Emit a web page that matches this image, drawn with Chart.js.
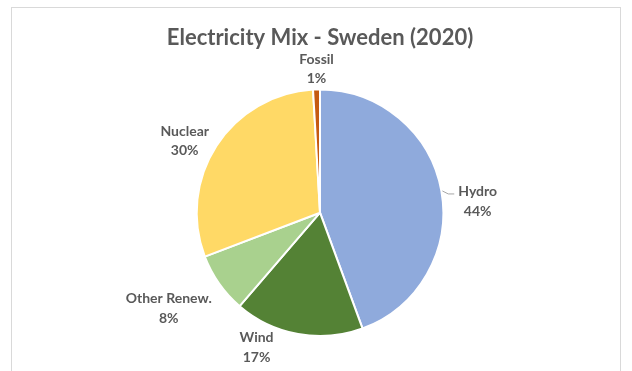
<!DOCTYPE html>
<html>
<head>
<meta charset="utf-8">
<script src="https://cdn.jsdelivr.net/npm/chart.js@4"></script>
<style>
  html, body { margin: 0; padding: 0; background: #fff; }
  #wrap { width: 632px; height: 371px; position: relative; }
</style>
</head>
<body>
<div id="wrap"><canvas id="mix"></canvas></div>
<script>
const categories = ['Hydro', 'Wind', 'Other Renew.', 'Nuclear', 'Fossil'];
const shares = [44.4, 16.9, 7.9, 29.9, 0.9];
const pctLabels = ['44%', '17%', '8%', '30%', '1%'];
const sliceColors = ['#8FAADC', '#548235', '#A9D18E', '#FFD966', '#C55A11'];

const textGrey = '#595959';
const labelFont = 'bold 14px Lato';

// grey frame around the chart, like the Excel chart border
const framePlugin = {
    id: 'frame',
    beforeDraw(chart) {
        const c = chart.ctx;
        c.save();
        c.strokeStyle = '#D9D9D9';
        c.lineWidth = 1;
        c.strokeRect(11.5, 7.5, 609, 420);
        c.restore();
    }
};

// category + percent labels outside each slice
const outsideLabels = {
    id: 'outsideLabels',
    afterDatasetsDraw(chart) {
        const c = chart.ctx;
        const arcs = chart.getDatasetMeta(0).data;
        const lineH = 19.5;
        c.save();
        c.font = labelFont;
        c.fillStyle = textGrey;
        c.textAlign = 'center';
        c.textBaseline = 'middle';
        arcs.forEach((arc, i) => {
            const p = arc.getProps(['x', 'y', 'startAngle', 'endAngle', 'outerRadius'], true);
            const a = (p.startAngle + p.endAngle) / 2;
            const dx = Math.cos(a), dy = Math.sin(a);
            // labels straight above/below sit right on the rim
            const R = Math.abs(dx) < 0.35 ? p.outerRadius + 1 : p.outerRadius + 9;
            const lines = [categories[i], pctLabels[i]];
            const w = Math.max(...lines.map(t => c.measureText(t).width));
            const h = lineH * lines.length;
            let ax = p.x + dx * R, ay = p.y + dy * R;
            let cx = ax, cy = ay;
            if (dx > 0.35) cx = ax + w / 2 + 8; else if (dx < -0.35) cx = ax - w / 2;
            if (dy > 0.55) cy = ay + h / 2; else if (dy < -0.55) cy = ay - h / 2;
            if (dx > 0.35) cy = ay + lineH / 2 + 2;
            // keep inside canvas, then push sideways off the pie
            const maxY = chart.height - 4 - h / 2;
            if (cy > maxY) {
                cy = maxY;
                const yEdge = cy - h / 2 - p.y;
                if (Math.abs(yEdge) < R) {
                    const need = Math.sqrt(R * R - yEdge * yEdge);
                    if (dx <= 0) cx = Math.min(cx, p.x - need - w / 2);
                    else cx = Math.max(cx, p.x + need + w / 2);
                }
            }
            // short leader line to labels pushed out to the right
            if (dx > 0.35) {
                const y0 = p.y + dy * (p.outerRadius + 1);
                c.save();
                c.strokeStyle = '#A6A6A6';
                c.lineWidth = 1;
                c.beginPath();
                c.moveTo(p.x + dx * (p.outerRadius + 1), y0);
                c.lineTo(cx - w / 2 - 10, y0 + 3);
                c.lineTo(cx - w / 2 - 4, y0 + 3);
                c.stroke();
                c.restore();
            }
            lines.forEach((t, k) => {
                c.fillText(t, cx, cy - h / 2 + lineH * (k + 0.5));
            });
        });
        c.restore();
    }
};

new Chart(document.getElementById('mix'), {
    type: 'pie',
    data: {
        labels: categories,
        datasets: [{
            data: shares,
            backgroundColor: sliceColors,
            borderColor: '#ffffff',
            borderWidth: 2
        }]
    },
    options: {
        responsive: true,
        maintainAspectRatio: false,
        animation: false,
        layout: { padding: { left: 8, right: 0, bottom: 34 } },
        plugins: {
            legend: { display: false },
            tooltip: { enabled: false },
            title: {
                display: true,
                text: 'Electricity Mix - Sweden (2020)',
                color: textGrey,
                font: { family: 'Lato', size: 22, weight: 'bold', lineHeight: 1.2 },
                padding: { top: 25, bottom: 37 }
            }
        }
    },
    plugins: [framePlugin, outsideLabels]
});
</script>
</body>
</html>
